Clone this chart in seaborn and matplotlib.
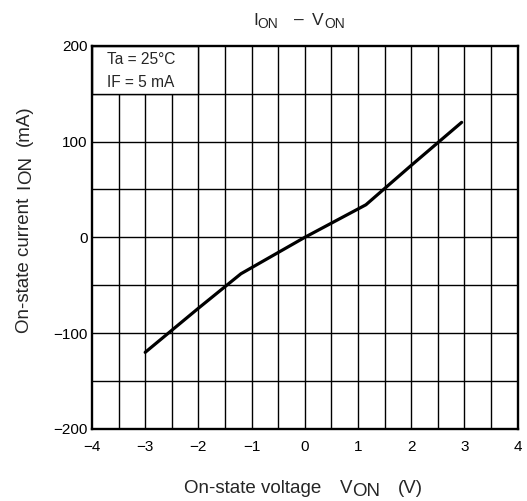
import numpy as np
import pandas as pd
import matplotlib
matplotlib.use("Agg")
import matplotlib.pyplot as plt
from matplotlib.patches import Rectangle
import seaborn as sns

# On-state characteristic (V_ON in volts, I_ON in mA)
v_on = [-3.0, -2.0, -1.2, 0.0, 1.15, 2.0, 2.95]
i_on = [-120, -74, -38, 0, 34, 75, 120]

x_ticks = [-4, -3, -2, -1, 0, 1, 2, 3, 4]
y_ticks = [-200, -100, 0, 100, 200]
conditions = ["Ta = 25°C", "IF = 5 mA"]

sns.set_style("white")
plt.rcParams["font.family"] = ["Liberation Sans", "DejaVu Sans"]

W, H = 527, 501
fig = plt.figure(figsize=(W / 100, H / 100), dpi=100)
ax = fig.add_axes([92 / W, 1 - 429 / H, 425.5 / W, 383.3 / H])

df = pd.DataFrame({"V": v_on, "I": i_on})
sns.lineplot(data=df, x="V", y="I", ax=ax, color="black", linewidth=2.3,
             sort=False, estimator=None, zorder=5)

ax.set_xlim(-4, 4)
ax.set_ylim(-200, 200)
ax.set_xticks(x_ticks)
ax.set_xticklabels([str(t).replace("-", "\u2212") for t in x_ticks])
ax.set_yticks(y_ticks)
ax.set_yticklabels([str(t).replace("-", "\u2212") for t in y_ticks])
ax.tick_params(axis="both", length=0, labelsize=11, colors="black")
ax.tick_params(axis="x", pad=8)
ax.tick_params(axis="y", pad=3)
ax.set_xlabel("")
ax.set_ylabel("")

# Chart-paper grid: 0.5 V by 50 mA
for xv in np.arange(-3.5, 4.0, 0.5):
    ax.axvline(xv, color="black", linewidth=1.0, zorder=1)
for yv in np.arange(-150, 200, 50):
    ax.axhline(yv, color="black", linewidth=1.0, zorder=1)

# Condition box in the upper-left cell block
ax.add_patch(Rectangle((-4, 150), 2, 50, facecolor="white",
                       edgecolor="black", linewidth=1.0, zorder=2))
ax.text(-3.72, 180.6, conditions[0], ha="left", va="baseline", fontsize=11.2, zorder=3)
ax.text(-3.72, 156.6, conditions[1], ha="left", va="baseline", fontsize=11.2, zorder=3)

for s in ax.spines.values():
    s.set_visible(True)
    s.set_color("black")
    s.set_linewidth(1.7)
    s.set_zorder(6)

renderer = fig.canvas.get_renderer()


def put(text, x, y, size, rotation=0):
    """Place a text piece with its baseline start at (x, y) in figure pixels."""
    return fig.text(x / W, y / H, text, fontsize=size, ha="left", va="baseline",
                    rotation=rotation, rotation_mode="anchor")


def advance(text, size):
    """Horizontal advance of a text piece, in pixels."""
    t = fig.text(0, 0, text, fontsize=size)
    w = t.get_window_extent(renderer).width
    t.remove()
    return w


# Title: I_ON - V_ON with lowered "ON"
put("I", 253.5, 476, 12.5)
put("ON", 257.5, 473, 10)
put("\u2013", 294, 476, 12.5)
put("V", 311.5, 476, 12.5)
put("ON", 324.5, 473, 10)

# x-axis label
put("On-state voltage", 184, 8, 13.5)
put("V", 339.5, 8, 13.5)
put("ON", 352, 5, 13.5)
put("(V)", 398, 8, 13.5)

# y-axis label (rotated), laid out piece by piece from the bottom
size_y = 13.5
base_x = 29
pos = 168
put("On-state current", base_x, pos, size_y, rotation=90)
pos += advance("On-state current", size_y) + 9
put("I", base_x, pos, size_y, rotation=90)
pos += advance("I", size_y)
put("ON", base_x + 2, pos, size_y, rotation=90)
pos += advance("ON", size_y) + 9
put("(mA)", base_x, pos, size_y, rotation=90)

fig.savefig("out.png", dpi=100, facecolor="white")
